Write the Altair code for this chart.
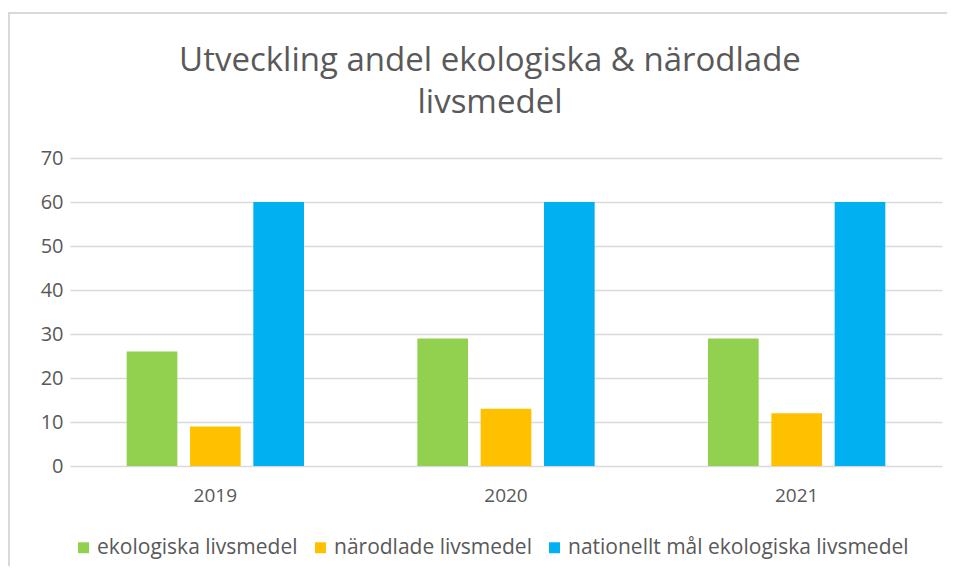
import altair as alt
import pandas as pd

years = ["2019", "2020", "2021"]
series = ["ekologiska livsmedel", "närodlade livsmedel", "nationellt mål ekologiska livsmedel"]
eko = [26, 29, 29]
narodlade = [9, 13, 12]
mal = [60, 60, 60]
colors = ["#92D050", "#FFC000", "#00B0F0"]
y_ticks = [0, 10, 20, 30, 40, 50, 60, 70]
title_lines = ["Utveckling andel ekologiska & närodlade", "livsmedel"]

rows = []
for s, vals in zip(series, [eko, narodlade, mal]):
    for yr, v in zip(years, vals):
        rows.append({"year": yr, "series": s, "value": v})
df = pd.DataFrame(rows)

FONT = "Open Sans"
TXT = "#595959"

bars = alt.Chart(df).mark_bar().encode(
    x=alt.X("year:N", sort=years,
            scale=alt.Scale(paddingInner=0.39, paddingOuter=0.195),
            axis=alt.Axis(title=None, labelAngle=0, domain=False, ticks=False,
                          labelPadding=20, labelFontSize=19, labelColor=TXT, labelFont=FONT)),
    xOffset=alt.XOffset("series:N", sort=series, scale=alt.Scale(paddingInner=0.2)),
    y=alt.Y("value:Q", scale=alt.Scale(domain=[0, 70], nice=False),
            axis=alt.Axis(title=None, values=y_ticks, domain=False, ticks=False,
                          labelPadding=7, labelFontSize=20, labelColor=TXT, labelFont=FONT,
                          gridColor="#D9D9D9", gridWidth=1.5)),
    color=alt.Color("series:N", sort=series,
                    scale=alt.Scale(domain=series, range=colors),
                    legend=alt.Legend(title=None, orient="none", legendX=3, legendY=379,
                                      direction="horizontal", symbolType="square",
                                      symbolSize=120, symbolStrokeWidth=0,
                                      labelFontSize=21, labelColor=TXT, labelFont=FONT,
                                      labelLimit=500, columnPadding=12, labelOffset=3)),
)

border_left = alt.Chart(alt.Data(values=[{"k": 1}])).mark_rule(
    color="#D9D9D9", strokeWidth=2
).encode(x=alt.value(-61), y=alt.value(-145), y2=alt.value(600))

border_top = alt.Chart(alt.Data(values=[{"k": 1}])).mark_rule(
    color="#D9D9D9", strokeWidth=2
).encode(x=alt.value(-62), x2=alt.value(1000), y=alt.value(-145))

title1 = alt.Chart(alt.Data(values=[{"k": 1}])).mark_text(
    font=FONT, fontSize=33, color=TXT, align="center", baseline="alphabetic"
).encode(x=alt.value(420), y=alt.value(-87), text=alt.value(title_lines[0]))

title2 = alt.Chart(alt.Data(values=[{"k": 1}])).mark_text(
    font=FONT, fontSize=33, color=TXT, align="center", baseline="alphabetic"
).encode(x=alt.value(420), y=alt.value(-45), text=alt.value(title_lines[1]))

chart = alt.layer(border_left, border_top, title1, title2, bars).properties(
    width=872,
    height=308,
    autosize=alt.AutoSizeParams(type="none"),
    padding={"left": 62, "top": 150, "right": 5, "bottom": 100},
).configure(background="white").configure_view(stroke=None)

chart.save("out.html", embed_options={"renderer": "svg", "actions": False})
